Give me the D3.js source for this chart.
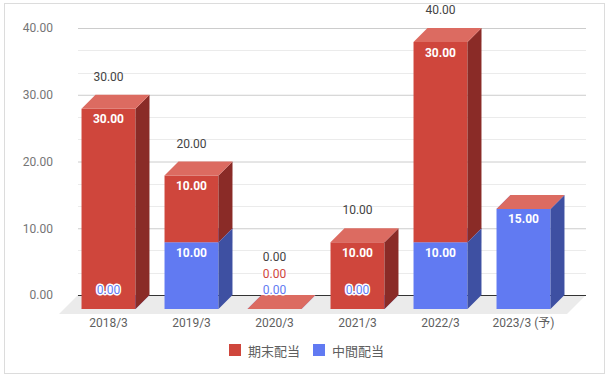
<!DOCTYPE html>
<html>
<head>
<meta charset="utf-8">
<script src="https://cdn.jsdelivr.net/npm/d3@7"></script>
<style>
  body { margin: 0; background: #fff; }
  svg { display: block; font-family: Roboto, 'Noto Sans CJK JP', sans-serif; }
</style>
</head>
<body>
<div id="chart"></div>
<script>
const categories = ['2018/3', '2019/3', '2020/3', '2021/3', '2022/3', '2023/3 (予)']
const interim = [0, 10, 0, 0, 10, 15] // 中間配当
const yearEnd = [30, 10, 0, 10, 30, null] // 期末配当
const totals = [30, 20, 0, 10, 40, null]
const yTicks = [0, 10, 20, 30, 40]

const series = [
  { name: '中間配当', values: interim, front: '#617af2', side: '#3e50a2', top: '#7a8ff4', text: '#617af2' },
  { name: '期末配当', values: yearEnd, front: '#cf463c', side: '#8a2b27', top: '#dc6b61', text: '#cf463c' },
]
const legendOrder = [series[1], series[0]]

const width = 611
const height = 380
const depth = 14

const svg = d3.select('#chart').append('svg')
  .attr('width', width).attr('height', height)

// frame
svg.append('rect')
  .attr('x', 4.5).attr('y', 3.5).attr('width', 600).attr('height', 370)
  .attr('fill', '#fff').attr('stroke', '#dcdcdc')

const y = d3.scaleLinear().domain([0, 40]).range([295, 28])
const x = d3.scaleBand().domain(categories).range([67, 565])
  .paddingInner(0.35).paddingOuter(0.175)
const gridX0 = 78
const gridX1 = 586
const yF = v => y(v) + depth

// minor gridlines
const minor = []
for (let i = 0; i < yTicks.length - 1; i++) {
  const step = (yTicks[i + 1] - yTicks[i]) / 3
  minor.push(yTicks[i] + step, yTicks[i] + 2 * step)
}
svg.append('g').selectAll('line').data(minor).join('line')
  .attr('x1', gridX0).attr('x2', gridX1)
  .attr('y1', d => Math.round(y(d)) + 0.5).attr('y2', d => Math.round(y(d)) + 0.5)
  .attr('stroke', '#ebebeb')

// y axis with major gridlines
svg.append('g')
  .attr('transform', `translate(${gridX0},0)`)
  .call(d3.axisLeft(y).tickValues(yTicks).tickFormat(d3.format('.2f')).tickSize(0).tickPadding(25))
  .call(g => {
    g.select('.domain').remove()
    g.selectAll('.tick text').attr('fill', '#757575').style('font-size', '12px')
      .style('font-family', 'Roboto, sans-serif')
    g.selectAll('.tick').filter(d => d !== 0).append('line')
      .attr('x1', 0).attr('x2', gridX1 - gridX0)
      .attr('stroke', '#cccccc')
  })

// floor
svg.append('path')
  .attr('d', d3.line()([[gridX0, 295], [gridX1, 295], [gridX1 - 19, 314], [gridX0 - 19, 314]]) + 'Z')
  .attr('fill', '#ebebeb')
svg.append('line')
  .attr('x1', gridX0).attr('x2', gridX1).attr('y1', 295.5).attr('y2', 295.5)
  .attr('stroke', '#333')

// bars
const bars = svg.append('g')
categories.forEach((c, i) => {
  const g = bars.append('g')
  const x0 = x(c)
  const x1 = x0 + x.bandwidth()
  let base = 0
  series.forEach(s => {
    const v = s.values[i] || 0
    const t = yF(base + v)
    const b = yF(base)
    g.append('rect')
      .attr('x', x0).attr('y', t).attr('width', x1 - x0).attr('height', b - t)
      .attr('fill', s.front)
    g.append('path')
      .attr('d', d3.line()([[x1, t], [x1 + depth, t - depth], [x1 + depth, b - depth], [x1, b]]) + 'Z')
      .attr('fill', s.side)
    g.append('path')
      .attr('d', d3.line()([[x0, t], [x0 + depth, t - depth], [x1 + depth, t - depth], [x1, t]]) + 'Z')
      .attr('fill', s.top)
    base += v
  })
})

// labels
const labels = svg.append('g').style('font-size', '12px')
categories.forEach((c, i) => {
  const cx = x(c) + x.bandwidth() / 2
  let base = 0
  let zeroCount = 0
  let lowest = Infinity
  series.forEach(s => {
    const v = s.values[i]
    if (v == null) return
    if (v > 0) {
      labels.append('text')
        .attr('x', cx).attr('y', yF(base + v) + 10.5)
        .attr('text-anchor', 'middle').attr('dominant-baseline', 'central')
        .attr('fill', '#fff').style('font-weight', 'bold')
        .text(d3.format('.2f')(v))
    } else {
      const ly = 290 - 16.5 * zeroCount
      zeroCount++
      lowest = Math.min(lowest, ly)
      labels.append('text')
        .attr('x', cx).attr('y', ly)
        .attr('text-anchor', 'middle').attr('dominant-baseline', 'central')
        .attr('fill', s.text).attr('stroke', '#fff').attr('stroke-width', 3)
        .attr('paint-order', 'stroke').attr('stroke-linejoin', 'round')
        .text(d3.format('.2f')(v))
    }
    base += v
  })
  if (totals[i] != null) {
    const ty = Math.min(yF(totals[i]) - 32, lowest - 16.5)
    labels.append('text')
      .attr('x', cx).attr('y', ty)
      .attr('text-anchor', 'middle').attr('dominant-baseline', 'central')
      .attr('fill', '#444')
      .text(d3.format('.2f')(totals[i]))
  }
})

// x axis
svg.append('g')
  .attr('transform', 'translate(0,318)')
  .call(d3.axisBottom(x).tickSize(0).tickPadding(0))
  .call(g => {
    g.select('.domain').remove()
    g.selectAll('.tick text').attr('fill', '#5f5f5f').style('font-size', '12px')
      .attr('dy', '0.71em')
      .style('font-family', "Roboto, 'Noto Sans CJK JP', sans-serif")
  })

// legend
const legend = svg.append('g').style('font-size', '13px')
const legendX = [229, 313]
legendOrder.forEach((s, i) => {
  const lg = legend.append('g').attr('transform', `translate(${legendX[i]},344)`)
  lg.append('rect').attr('width', 12).attr('height', 12).attr('fill', s.front)
  lg.append('text').attr('x', 19).attr('y', 6).attr('dominant-baseline', 'central')
    .attr('fill', '#5f5f5f')
    .style('font-family', "'Noto Sans CJK JP', sans-serif")
    .text(s.name)
})
</script>
</body>
</html>
